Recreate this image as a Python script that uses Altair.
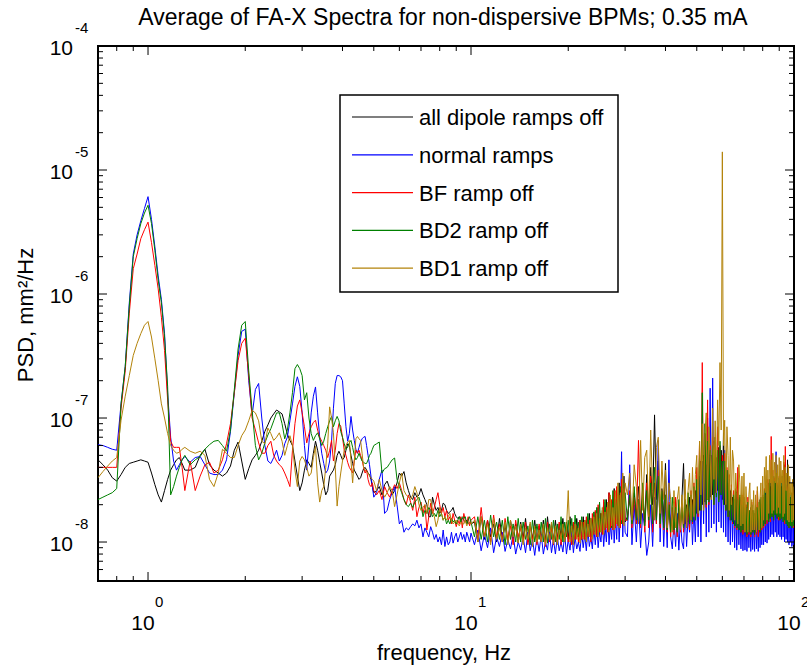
import altair as alt
import pandas as pd

TITLE = "Average of FA-X Spectra for non-dispersive BPMs; 0.35 mA"
X_TITLE = "frequency, Hz"
Y_TITLE = "PSD, mm²/Hz"
SERIES = ["all dipole ramps off", "normal ramps", "BF ramp off", "BD2 ramp off", "BD1 ramp off"]
COLORS = ["#000000", "#0000FF", "#FF0000", "#008000", "#B3830A"]

# frequency bins, Hz
FREQ_A = [0.7, 0.725, 0.75, 0.775, 0.8, 0.825, 0.85, 0.875, 0.9, 0.925, 0.95, 0.975, 1.0,
          1.025, 1.05, 1.075, 1.1, 1.125, 1.15, 1.175, 1.2, 1.225, 1.25, 1.275, 1.3]
FREQ_B = [1.35, 1.4, 1.45, 1.5, 1.55, 1.6, 1.65, 1.7, 1.75, 1.8,
          1.85, 1.9, 1.95, 2.0, 2.05, 2.1, 2.15, 2.2, 2.25, 2.3,
          2.35, 2.4, 2.45, 2.5, 2.55, 2.6, 2.65, 2.7, 2.75, 2.8,
          2.85, 2.9, 2.95, 3.0, 3.05, 3.1, 3.15, 3.2, 3.25, 3.3,
          3.35, 3.4, 3.45, 3.5, 3.55, 3.6, 3.65, 3.7, 3.75, 3.8,
          3.85, 3.9, 3.95, 4.0, 4.05, 4.1, 4.15, 4.2, 4.25, 4.3,
          4.35, 4.4, 4.45, 4.5, 4.55, 4.6, 4.65, 4.7, 4.75, 4.8,
          4.85, 4.9, 4.95, 5.0]
FREQ_C = [5.1, 5.2, 5.3, 5.4, 5.5, 5.6, 5.7, 5.8, 5.9, 6.0,
          6.1, 6.2, 6.3, 6.4, 6.5, 6.6, 6.7, 6.8, 6.9, 7.0,
          7.1, 7.2, 7.3, 7.4, 7.5, 7.6, 7.7, 7.8, 7.9, 8.0,
          8.1, 8.2, 8.3, 8.4, 8.5, 8.6, 8.7, 8.8, 8.9, 9.0,
          9.1, 9.2, 9.3, 9.4, 9.5, 9.6, 9.7, 9.8, 9.9, 10.0]
FREQ_D = [10.25, 10.5, 10.75, 11, 11.25, 11.5, 11.75, 12, 12.25, 12.5, 12.75, 13,
          13.25, 13.5, 13.75, 14, 14.25, 14.5, 14.75, 15, 15.25, 15.5, 15.75, 16,
          16.25, 16.5, 16.75, 17, 17.25, 17.5, 17.75, 18, 18.25, 18.5, 18.75, 19,
          19.25, 19.5, 19.75, 20, 20.25, 20.5, 20.75, 21, 21.25, 21.5, 21.75, 22,
          22.25, 22.5, 22.75, 23, 23.25, 23.5, 23.75, 24, 24.25, 24.5, 24.75, 25,
          25.25, 25.5, 25.75, 26, 26.25, 26.5, 26.75, 27, 27.25, 27.5, 27.75, 28,
          28.25, 28.5, 28.75, 29, 29.25, 29.5, 29.75, 30]
FREQ_E = [30.5, 31, 31.5, 32, 32.5, 33, 33.5, 34, 34.5, 35,
          35.5, 36, 36.5, 37, 37.5, 38, 38.5, 39, 39.5, 40,
          40.5, 41, 41.5, 42, 42.5, 43, 43.5, 44, 44.5, 45,
          45.5, 46, 46.5, 47, 47.5, 48, 48.5, 49, 49.5, 50,
          50.5, 51, 51.5, 52, 52.5, 53, 53.5, 54, 54.5, 55,
          55.5, 56, 56.5, 57, 57.5, 58, 58.5, 59, 59.5, 60,
          60.5, 61, 61.5, 62, 62.5, 63, 63.5, 64, 64.5, 65,
          65.5, 66, 66.5, 67, 67.5, 68, 68.5, 69, 69.5, 70,
          70.5, 71, 71.5, 72, 72.5, 73, 73.5, 74, 74.5, 75,
          75.5, 76, 76.5, 77, 77.5, 78, 78.5, 79, 79.5, 80,
          80.5, 81, 81.5, 82, 82.5, 83, 83.5, 84, 84.5, 85,
          85.5, 86, 86.5, 87, 87.5, 88, 88.5, 89, 89.5, 90,
          90.5, 91, 91.5, 92, 92.5, 93, 93.5, 94, 94.5, 95,
          95.5, 96, 96.5, 97, 97.5, 98, 98.5, 99, 99.5, 100]
FREQ = FREQ_A + FREQ_B + FREQ_C + FREQ_D + FREQ_E

# PSD values in units of 1e-8 mm^2/Hz
PSD_UNIT = 1e-8

BLACK = [
    4.6, 4.2, 3.8, 3.3, 3.1, 3.5, 4.0, 4.3, 4.4, 4.5, 4.6, 4.5, 4.4, 3.6, 2.9, 2.4, 2.1, 2.6, 3.2, 3.8, 4.2, 4.6, 4.8, 4.3, 3.8,
    3.8, 4.0, 5.0, 5.6, 4.2, 3.8, 3.6, 3.4, 3.6, 4.1,
    5.5, 6.4, 4.5, 3.2, 3.9, 4.6, 5.0, 5.5, 6.5, 7.8,
    8.8, 10, 10.8, 11.6, 11.2, 10.8, 9, 7.4, 6.6, 6.0,
    4.5, 3.4, 2.6, 3.0, 3.8, 4.6, 4.3, 4.0, 5.2, 6.5,
    5.5, 4.4, 3.6, 2.9, 2.4, 2.6, 3.4, 3.6, 3.8, 4.2,
    5.0, 5.4, 5.0, 4.6, 4.8, 5.5, 6.2, 6.0, 5.0, 4.3,
    3.8, 3.6, 3.4, 3.2, 3.3, 3.6, 3.9, 4.0, 3.8, 3.6,
    3.5, 3.2, 2.8, 2.5,
    2.6, 2.8, 2.4, 2.9, 3.1, 2.7, 2.4, 2.6, 3.0, 3.6,
    3.4, 3.7, 3.0, 2.6, 2.3, 2.2, 2.5, 2.3, 2.4, 2.7,
    2.4, 2.2, 2.0, 1.6, 1.6, 2.3, 2.0, 1.8, 1.9, 1.7,
    1.8, 2.06, 2.0, 1.8, 1.7, 1.75, 1.8, 1.9, 1.7, 1.6,
    1.55, 1.6, 1.5, 1.55, 1.5, 1.45, 1.5, 1.4, 1.45, 1.4,
    1.45, 1.0, 1.6, 1.05, 1.5, 1.1, 1.4, 1.0,
    1.55, 1.05, 1.35, 1.0, 1.5, 1.1, 1.4, 0.98,
    1.45, 1.05, 1.55, 1.0, 1.4, 1.05, 1.5, 1.0,
    1.35, 1.05, 1.5, 1.0, 1.6, 1.1, 1.4, 1.02,
    1.5, 1.05, 1.4, 1.1, 1.55, 1.0, 1.45, 1.05,
    1.6, 1.1, 1.45, 1.05, 1.55, 1.1, 1.5, 1.05,
    1.6, 1.1, 1.5, 1.15, 1.7, 1.1, 1.55, 1.2,
    1.75, 1.2, 1.9, 1.25, 1.7, 1.3, 2.1, 1.25,
    2.2, 1.3, 2.5, 1.35, 2.0, 1.4, 2.7, 1.35,
    2.5, 1.4, 3.0, 1.45, 2.6, 1.5, 3.4, 1.45,
    1.6, 2.2, 1.5, 2.5, 1.55, 2.8, 1.5, 2.3, 1.45, 3.5,
    1.6, 4.0, 2.0, 10.6, 2.2, 4.5, 1.8, 2.7, 1.6, 4.3,
    1.4, 2.0, 1.35, 1.8, 1.3, 2.2, 1.3, 1.9, 1.35, 2.3,
    4.3, 1.4, 2.0, 1.45, 2.3, 1.5, 2.2, 1.6, 2.6, 1.7,
    3.0, 1.8, 4.5, 2.0, 5.0, 2.1, 4.2, 2.2, 5.5, 2.3,
    5.0, 2.4, 6.5, 2.5, 4.8, 2.6, 5.8, 2.4, 5.5, 2.2,
    7.6, 2.0, 3.8, 1.8, 3.0, 1.6, 2.6, 1.5, 2.3, 1.4,
    2.2, 1.35, 2.6, 1.3, 2.0, 1.25, 2.2, 1.2, 1.9, 1.2,
    1.8, 1.2, 2.0, 1.15, 1.7, 1.2, 1.9, 1.15, 1.8, 1.2,
    1.7, 1.2, 1.9, 1.25, 1.8, 1.3, 2.2, 1.3, 2.0, 1.35,
    2.3, 1.4, 2.6, 1.45, 2.3, 1.5, 3.0, 1.55, 2.8, 1.6,
    3.2, 1.6, 2.9, 1.65, 3.4, 1.6, 3.0, 1.55, 2.8, 1.6,
    3.0, 1.55, 2.8, 1.6, 3.4, 1.5, 4.2, 1.5, 2.9, 1.45,
    4.6, 1.4, 2.5, 1.4, 2.3, 1.35, 2.2, 1.4, 2.0, 1.35,
]

BLUE = [
    6.1, 6.0, 5.8, 5.6, 5.5, 13, 26, 85, 210, 300, 390, 490, 610, 400, 240, 140, 90, 48, 16, 7, 4.5, 3.8, 4.2, 4.6, 4.9,
    4.4, 4.8, 4.9, 4.2, 3.6, 3.5, 3.5, 3.8, 4.6, 7.8,
    16, 32, 50, 52, 20, 10.5, 17, 19, 10, 6,
    4.5, 4.3, 4.8, 5.5, 4.5, 5.0, 6.2, 7.0, 9.5, 13,
    18, 21.5, 18, 11, 6, 3.8, 6.3, 11, 15, 17.8,
    11, 7, 5.2, 4.3, 3.6, 3.8, 4.5, 6.5, 12, 19,
    22, 22, 21.5, 20, 13, 8.5, 6.5, 7.5, 10.3, 8,
    6.6, 5.6, 5.2, 5.8, 6.4, 6.8, 7.0, 7.1, 6.0, 5.0,
    4.2, 3.4, 2.8, 2.3,
    2.5, 3.2, 3.8, 1.7, 1.8, 2.2, 2.5, 2.8, 2.0, 1.4,
    1.5, 1.2, 1.3, 1.25, 1.33, 1.4, 1.35, 1.5, 1.3, 1.4,
    1.1, 1.3, 1.2, 1.1, 1.33, 1.2, 1.05, 1.15, 1.0, 1.1,
    0.95, 1.25, 0.92, 1.1, 0.95, 1.0, 1.2, 0.98, 1.1, 1.18,
    1.0, 1.1, 1.2, 1.05, 1.15, 1.0, 1.2, 1.1, 1.0, 1.18,
    0.95, 1.25, 0.85, 1.15, 0.9, 1.3, 0.82, 1.1,
    0.92, 1.2, 0.84, 1.05, 0.88, 1.15, 0.8, 1.0,
    0.86, 1.1, 0.82, 1.2, 0.85, 1.05, 0.78, 1.1,
    0.84, 1.15, 0.8, 1.0, 0.86, 1.2, 0.82, 1.05,
    0.8, 1.1, 0.85, 1.0, 0.83, 1.15, 0.8, 1.05,
    0.86, 1.2, 0.82, 1.1, 0.88, 1.0, 0.84, 1.2,
    0.9, 1.15, 0.85, 1.25, 0.92, 1.1, 0.88, 1.3,
    0.95, 1.4, 0.9, 1.2, 1.0, 1.5, 0.92, 1.35,
    1.0, 1.7, 0.95, 1.4, 1.05, 1.9, 0.98, 1.6,
    1.05, 2.2, 1.0, 1.7, 5.35, 1.1, 2.4, 1.2,
    1.1, 4.2, 0.95, 2.0, 1.0, 2.2, 0.9, 1.7, 1.3, 0.78,
    1.0, 2.0, 0.92, 2.3, 1.4, 6.6, 1.0, 2.6, 0.92, 2.1,
    0.9, 4.6, 1.1, 0.88, 1.5, 0.92, 1.7, 0.86, 1.5, 1.0,
    0.88, 1.9, 0.92, 1.6, 1.2, 2.2, 0.95, 1.9, 1.0, 2.6,
    1.1, 3.4, 1.0, 4.5, 1.4, 6.0, 1.1, 10, 1.2, 17.4,
    1.3, 21, 1.4, 7.0, 1.2, 5.0, 1.45, 5.5, 1.3, 4.5,
    1.2, 5.5, 1.1, 3.8, 1.0, 3.0, 0.95, 2.5, 1.0, 2.2,
    0.9, 2.0, 0.86, 2.3, 0.95, 1.9, 0.88, 1.7, 0.85, 1.9,
    0.86, 1.6, 0.84, 1.7, 0.9, 1.5, 0.84, 1.6, 0.87, 1.5,
    0.84, 1.7, 0.88, 1.5, 0.84, 1.8, 0.9, 1.6, 0.95, 2.0,
    0.95, 2.2, 1.0, 2.5, 0.98, 2.1, 1.05, 2.8, 1.1, 2.6,
    1.15, 3.0, 1.1, 2.7, 1.2, 5.35, 1.1, 2.9, 1.15, 2.7,
    1.1, 2.6, 1.05, 3.4, 1.1, 2.3, 1.0, 2.8, 1.05, 2.2,
    1.0, 2.3, 0.95, 2.0, 1.0, 1.9, 0.92, 2.2, 0.95, 1.8,
]

RED = [
    4.0, 4.0, 4.0, 4.0, 4.0, 12, 24, 70, 160, 210, 280, 330, 380, 260, 170, 110, 65, 35, 14, 6.5, 5.8, 5.8, 5.8, 4.0, 2.6,
    4.5, 2.6, 3.4, 4.2, 4.4, 3.6, 3.8, 4.6, 6.2, 9,
    16, 29, 40, 44, 22, 10, 8, 6.3, 5.2, 5.2,
    6.0, 6.5, 5.0, 4.5, 4.2, 4.0, 3.6, 3.2, 2.8, 5.5,
    9, 12.5, 14, 11, 8.5, 6.3, 7.5, 8.5, 9.2, 9.6,
    8.0, 7.0, 6.5, 6.0, 5.5, 4.8, 5.5, 6.6, 4.5, 5.5,
    7.5, 9.0, 8.6, 7.0, 5.5, 5.0, 4.4, 4.0, 3.8, 3.6,
    4.5, 5.5, 5.2, 5.5, 5.0, 4.6, 4.0, 3.6, 3.8, 3.2,
    2.9, 2.8, 3.0, 2.6,
    2.4, 2.6, 2.2, 2.8, 2.5, 2.3, 2.6, 2.9, 2.7, 3.0,
    2.6, 2.2, 2.0, 2.4, 2.1, 1.8, 2.3, 1.6, 1.9, 2.1,
    1.7, 2.0, 1.25, 1.6, 2.06, 1.7, 1.9, 2.2, 2.5, 2.0,
    1.7, 1.9, 1.6, 1.8, 1.5, 1.6, 1.4, 1.7, 1.5, 1.33,
    1.5, 1.4, 1.6, 1.3, 1.7, 1.5, 1.4, 1.6, 1.35, 1.5,
    1.6, 1.05, 1.9, 1.1, 1.5, 1.0, 1.65, 1.1,
    1.4, 1.0, 1.55, 1.05, 1.35, 0.95, 1.5, 1.1,
    1.3, 1.0, 1.45, 0.95, 1.35, 1.05, 1.25, 0.95,
    1.4, 1.0, 1.3, 0.92, 1.45, 1.0, 1.3, 0.95,
    1.35, 1.0, 1.45, 0.95, 1.3, 1.05, 1.4, 1.0,
    1.3, 0.95, 1.45, 1.05, 1.35, 1.0, 1.5, 1.05,
    1.45, 1.05, 1.6, 1.1, 1.5, 1.0, 1.7, 1.15,
    1.8, 1.1, 2.0, 1.2, 1.7, 1.15, 2.2, 1.25,
    1.9, 1.2, 2.5, 1.3, 2.2, 1.25, 2.6, 1.3,
    2.8, 1.35, 2.4, 1.3, 3.2, 1.4, 2.7, 1.5,
    1.5, 2.6, 1.3, 2.3, 1.4, 6.6, 1.3, 2.8, 1.2, 3.0,
    1.3, 3.4, 1.2, 3.0, 1.4, 3.8, 1.3, 2.6, 1.25, 2.4,
    1.2, 2.1, 1.1, 1.9, 1.15, 2.3, 1.1, 1.8, 1.2, 2.0,
    1.2, 2.2, 1.3, 2.0, 1.25, 2.6, 1.4, 3.0, 1.5, 4.0,
    1.6, 6.5, 1.8, 28, 2.0, 7.5, 1.9, 14, 2.0, 6.0,
    2.2, 7.0, 2.0, 5.8, 2.4, 8.5, 2.2, 6.0, 2.5, 5.0,
    2.0, 5.2, 1.8, 4.0, 1.6, 3.5, 1.5, 2.9, 1.4, 2.6,
    1.3, 2.7, 1.25, 4.0, 1.3, 2.3, 1.2, 2.4, 1.15, 2.1,
    1.2, 2.0, 1.1, 2.3, 1.15, 1.8, 1.1, 2.1, 1.2, 1.7,
    1.1, 1.9, 1.15, 2.6, 1.1, 1.7, 1.2, 2.0, 1.25, 2.4,
    1.3, 2.7, 1.35, 2.4, 1.4, 3.2, 1.5, 2.9, 1.45, 7.1,
    1.6, 3.8, 1.5, 3.3, 1.7, 3.6, 1.6, 3.0, 1.5, 3.4,
    1.5, 3.1, 1.6, 2.8, 1.5, 4.4, 1.4, 5.9, 1.5, 2.7,
    1.4, 2.8, 1.3, 2.4, 1.4, 2.2, 1.35, 2.5, 1.3, 2.1,
]

GREEN = [
    2.2, 2.3, 2.4, 2.5, 2.7, 13, 26, 80, 200, 280, 370, 450, 520, 370, 225, 130, 85, 45, 18, 2.4, 2.8, 3.4, 4.0, 4.6, 5.0,
    4.2, 4.6, 4.9, 5.6, 6.1, 6.5, 6.6, 6.0, 5.4, 8,
    17, 36, 56, 60, 24, 11.5, 6.0, 4.6, 5.2, 6.3,
    7.3, 8.2, 9.5, 11, 11, 9.0, 6.8, 8.0, 11, 16,
    25, 27, 25, 22, 14, 16, 10, 7.5, 6.6, 7.2,
    7.6, 6.8, 6.0, 6.5, 7.5, 8.5, 9.5, 10.3, 8.5, 9.5,
    10.3, 9.5, 7.8, 7.0, 6.2, 5.6, 5.8, 6.3, 6.6, 5.8,
    5.0, 4.6, 4.8, 5.2, 4.8, 4.5, 4.4, 4.3, 4.3, 4.6,
    5.0, 5.2, 5.6, 6.0,
    6.2, 6.4, 3.6, 3.9, 4.0, 4.3, 4.6, 4.76, 3.2, 2.8,
    2.5, 2.2, 2.0, 1.93, 2.06, 1.9, 2.1, 2.2, 2.3, 2.0,
    1.6, 1.8, 1.7, 1.9, 1.8, 1.6, 1.7, 1.6, 1.8, 1.6,
    1.7, 1.5, 1.6, 1.4, 1.5, 1.4, 1.55, 1.45, 1.5, 1.4,
    1.5, 1.6, 1.45, 1.6, 1.55, 1.6, 1.4, 1.5, 1.6, 1.45,
    1.1, 1.6, 1.05, 1.5, 1.0, 1.65, 1.1, 1.45,
    1.05, 1.5, 0.95, 1.6, 1.05, 1.4, 1.0, 1.55,
    1.0, 1.45, 1.05, 1.35, 0.95, 1.5, 1.0, 1.4,
    1.05, 1.45, 1.0, 1.55, 0.98, 1.4, 1.05, 1.5,
    1.0, 1.4, 1.05, 1.6, 1.0, 1.45, 1.1, 1.5,
    1.05, 1.55, 1.0, 1.65, 1.1, 1.45, 1.05, 1.6,
    1.1, 1.5, 1.05, 1.7, 1.15, 1.55, 1.1, 1.75,
    1.2, 1.9, 1.15, 2.1, 1.2, 1.8, 1.25, 2.2,
    1.3, 2.0, 1.25, 2.3, 1.3, 2.6, 1.35, 2.2,
    1.4, 2.4, 1.35, 2.8, 1.4, 3.0, 1.45, 2.5,
    1.5, 2.4, 1.4, 2.8, 1.5, 2.2, 1.4, 3.0, 1.35, 2.6,
    1.5, 3.0, 1.4, 4.0, 1.5, 3.4, 1.4, 2.6, 1.3, 2.4,
    1.25, 2.0, 1.2, 2.3, 1.25, 1.9, 1.2, 2.2, 1.3, 1.9,
    1.3, 2.2, 1.35, 2.5, 1.4, 2.4, 1.45, 2.8, 1.5, 3.2,
    1.7, 5.0, 1.8, 16, 1.9, 9.0, 2.0, 6.5, 2.1, 5.5,
    2.2, 6.0, 2.0, 7.0, 2.3, 5.5, 2.1, 6.5, 2.4, 4.5,
    2.0, 4.5, 1.8, 3.8, 1.6, 3.2, 1.5, 2.7, 1.45, 2.4,
    1.35, 2.6, 1.3, 2.2, 1.25, 2.4, 1.2, 2.0, 1.25, 2.3,
    1.2, 1.9, 1.15, 2.1, 1.2, 1.8, 1.15, 2.0, 1.2, 1.8,
    1.15, 2.0, 1.2, 1.9, 1.25, 2.1, 1.2, 2.3, 1.3, 2.4,
    1.35, 2.6, 1.4, 2.9, 1.5, 2.5, 1.45, 3.2, 1.55, 3.0,
    1.6, 3.4, 1.5, 3.1, 1.65, 3.6, 1.55, 2.9, 1.6, 3.3,
    1.5, 3.0, 1.55, 3.4, 1.45, 2.9, 1.5, 3.5, 1.4, 2.6,
    1.35, 2.7, 1.3, 2.3, 1.35, 2.5, 1.3, 2.2, 1.35, 2.4,
]

GOLD = [
    3.3, 3.7, 4.1, 4.5, 4.8, 9.6, 15, 22, 32, 40, 48, 56, 60, 45, 30, 20, 13, 10, 7.5, 6, 5.5, 5.2, 5.3, 5.6, 5.8,
    5.4, 5.2, 5.4, 5.0, 3.2, 2.8, 3.6, 5.6, 5.2, 4.8,
    4.8, 6.0, 7.2, 8.0, 9.5, 11.5, 11, 9.5, 6.5, 6.2,
    8.3, 7.5, 6.6, 7.0, 7.6, 6.5, 5.0, 6.0, 7.2, 6.0,
    3.8, 2.8, 4.5, 4.9, 4.6, 4.0, 3.4, 3.6, 4.8, 5.9,
    3.0, 2.1, 2.6, 2.8, 4.0, 6.2, 12.3, 10, 7.6, 4.0,
    1.95, 2.8, 3.6, 4.5, 5.5, 6.0, 6.4, 6.6, 4.5, 3.0,
    4.5, 6.8, 7.1, 6.8, 6.6, 5.2, 4.0, 3.8, 3.7, 3.6,
    3.4, 3.3, 3.2, 3.1,
    2.6, 3.2, 2.6, 2.3, 2.5, 2.8, 2.6, 1.93, 2.4, 3.0,
    3.6, 2.6, 2.4, 2.3, 2.2, 2.4, 2.8, 2.5, 2.0, 1.8,
    1.9, 2.0, 1.7, 2.2, 2.2, 1.8, 1.6, 1.33, 1.5, 1.9,
    1.7, 1.5, 1.6, 1.5, 1.6, 1.7, 1.5, 1.4, 1.45, 1.5,
    1.4, 1.35, 1.45, 1.4, 1.4, 1.5, 1.35, 1.4, 1.45, 1.4,
    1.5, 1.0, 1.6, 1.1, 1.4, 0.95, 1.55, 1.05,
    1.3, 1.0, 1.45, 0.95, 1.5, 1.1, 1.35, 0.98,
    1.4, 0.95, 1.3, 1.05, 1.45, 0.92, 1.35, 1.0,
    1.25, 1.0, 1.4, 0.95, 1.3, 1.05, 1.45, 0.97,
    1.35, 0.95, 1.25, 1.05, 1.4, 1.0, 1.3, 2.6,
    1.0, 1.35, 0.95, 1.4, 1.05, 1.3, 0.98, 1.45,
    1.05, 1.5, 1.0, 1.4, 1.1, 1.55, 1.05, 1.6,
    1.15, 1.7, 1.1, 1.55, 1.2, 1.9, 1.15, 1.75,
    1.3, 2.1, 1.2, 2.4, 1.35, 1.9, 1.25, 2.6,
    1.4, 3.0, 1.3, 2.5, 1.5, 3.6, 1.35, 3.0,
    2.4, 3.6, 1.5, 4.2, 2.8, 1.4, 6.6, 1.8, 4.8, 5.5,
    1.6, 8.0, 2.6, 1.5, 5.8, 7.0, 1.7, 4.5, 2.2, 3.8,
    1.3, 3.0, 2.2, 1.2, 2.6, 1.3, 2.2, 2.8, 1.25, 2.4,
    1.4, 3.2, 1.3, 2.6, 3.6, 1.5, 4.0, 1.6, 3.5, 5.0,
    1.7, 6.5, 2.4, 9.0, 1.8, 7.5, 11, 2.2, 8.5, 5.0,
    2.2, 12, 3.2, 9.5, 2.5, 14, 6.0, 28, 8.0, 1400,
    6.0, 9.6, 2.0, 8.5, 5.0, 1.8, 7.0, 2.0, 5.5, 4.5,
    1.5, 3.6, 2.5, 1.4, 4.2, 3.0, 1.35, 3.4, 1.4, 3.6,
    1.2, 2.8, 1.9, 1.2, 2.4, 3.0, 1.2, 2.2, 1.25, 2.6,
    1.25, 2.4, 1.2, 2.8, 2.0, 1.25, 2.2, 3.0, 1.3, 3.4,
    1.5, 4.0, 2.5, 4.9, 1.5, 3.8, 1.7, 5.0, 3.0, 4.6,
    1.7, 5.2, 1.8, 4.4, 3.0, 5.0, 1.7, 4.2, 1.9, 4.8,
    1.7, 4.5, 3.0, 3.8, 1.6, 5.0, 1.7, 4.0, 2.6, 3.6,
    1.5, 4.2, 1.45, 3.4, 2.4, 3.0, 1.45, 3.2, 1.5, 2.8,
]

VALUES = [BLACK, BLUE, RED, GREEN, GOLD]

X_DOMAIN = [0.7, 100]
Y_DOMAIN = [4.85e-9, 1e-4]
X_MAJOR = [1, 10, 100]
X_MAJOR_EXP = ["0", "1", "2"]
X_MINOR = [0.7, 0.8, 0.9, 2, 3, 4, 5, 6, 7, 8, 9, 20, 30, 40, 50, 60, 70, 80, 90]
Y_MAJOR = [1e-8, 1e-7, 1e-6, 1e-5, 1e-4]
Y_MAJOR_EXP = ["-8", "-7", "-6", "-5", "-4"]
Y_MINOR = [6e-9, 7e-9, 8e-9, 9e-9,
           2e-8, 3e-8, 4e-8, 5e-8, 6e-8, 7e-8, 8e-8, 9e-8,
           2e-7, 3e-7, 4e-7, 5e-7, 6e-7, 7e-7, 8e-7, 9e-7,
           2e-6, 3e-6, 4e-6, 5e-6, 6e-6, 7e-6, 8e-6, 9e-6,
           2e-5, 3e-5, 4e-5, 5e-5, 6e-5, 7e-5, 8e-5, 9e-5]

W, H = 696, 535
FONT = "Liberation Sans"

xs = alt.Scale(type="log", domain=X_DOMAIN, nice=False)
ys = alt.Scale(type="log", domain=Y_DOMAIN, nice=False)

layers = []

for name, color, vals in zip(SERIES, COLORS, VALUES):
    if len(vals) != len(FREQ):
        raise ValueError(f"{name}: {len(vals)} values vs {len(FREQ)} freqs")
    df = pd.DataFrame({"freq": FREQ, "psd": [v * PSD_UNIT for v in vals]})
    layers.append(
        alt.Chart(df).mark_line(color=color, strokeWidth=1, clip=True).encode(
            x=alt.X("freq:Q", scale=xs, axis=None),
            y=alt.Y("psd:Q", scale=ys, axis=None),
        )
    )


def x_ticks(vals, length):
    df = pd.DataFrame({"f": vals})
    bottom = alt.Chart(df).mark_rule(color="black", strokeWidth=1).encode(
        x=alt.X("f:Q", scale=xs, axis=None), y=alt.value(H), y2=alt.value(H - length))
    top = alt.Chart(df).mark_rule(color="black", strokeWidth=1).encode(
        x=alt.X("f:Q", scale=xs, axis=None), y=alt.value(0), y2=alt.value(length))
    return [bottom, top]


def y_ticks(vals, length):
    df = pd.DataFrame({"v": vals})
    left = alt.Chart(df).mark_rule(color="black", strokeWidth=1).encode(
        y=alt.Y("v:Q", scale=ys, axis=None), x=alt.value(0), x2=alt.value(length))
    right = alt.Chart(df).mark_rule(color="black", strokeWidth=1).encode(
        y=alt.Y("v:Q", scale=ys, axis=None), x=alt.value(W), x2=alt.value(W - length))
    return [left, right]


layers += x_ticks(X_MAJOR, 9) + x_ticks(X_MINOR, 5)
layers += y_ticks(Y_MAJOR, 9) + y_ticks(Y_MINOR, 5)

# tick labels as 10 with superscript exponent
xlab = alt.Chart(pd.DataFrame({"f": X_MAJOR, "e": X_MAJOR_EXP}))
layers.append(xlab.mark_text(text="10", font=FONT, fontSize=21, align="center",
                             baseline="alphabetic", dx=-5, color="black").encode(
    x=alt.X("f:Q", scale=xs, axis=None), y=alt.value(H + 49)))
layers.append(xlab.mark_text(font=FONT, fontSize=15, align="left",
                             baseline="alphabetic", dx=7, color="black").encode(
    x=alt.X("f:Q", scale=xs, axis=None), y=alt.value(H + 26), text="e:N"))

ylab = alt.Chart(pd.DataFrame({"v": Y_MAJOR, "e": Y_MAJOR_EXP}))
layers.append(ylab.mark_text(text="10", font=FONT, fontSize=21, align="right",
                             baseline="alphabetic", dy=9, color="black").encode(
    y=alt.Y("v:Q", scale=ys, axis=None), x=alt.value(-25)))
layers.append(ylab.mark_text(font=FONT, fontSize=15, align="left",
                             baseline="alphabetic", dy=-13, color="black").encode(
    y=alt.Y("v:Q", scale=ys, axis=None), x=alt.value(-23), text="e:N"))

# titles
layers.append(alt.Chart(pd.DataFrame({"t": [TITLE]})).mark_text(
    font=FONT, fontSize=23, align="center", baseline="alphabetic", color="black").encode(
    x=alt.value(345), y=alt.value(-21), text="t:N"))
layers.append(alt.Chart(pd.DataFrame({"t": [X_TITLE]})).mark_text(
    font=FONT, fontSize=22, align="center", baseline="alphabetic", color="black").encode(
    x=alt.value(346), y=alt.value(H + 79), text="t:N"))
layers.append(alt.Chart(pd.DataFrame({"t": [Y_TITLE]})).mark_text(
    font=FONT, fontSize=22, align="center", baseline="alphabetic", angle=270, color="black").encode(
    x=alt.value(-65), y=alt.value(269), text="t:N"))

# legend box
layers.append(alt.Chart(pd.DataFrame({"k": [0]})).mark_rect(
    fill="white", stroke="black", strokeWidth=1.5).encode(
    x=alt.value(242), x2=alt.value(520), y=alt.value(49), y2=alt.value(246)))
for i, (name, color) in enumerate(zip(SERIES, COLORS)):
    ypos = 71 + 37.8 * i
    row = alt.Chart(pd.DataFrame({"label": [name]}))
    layers.append(row.mark_rule(color=color, strokeWidth=1.2).encode(
        x=alt.value(254), x2=alt.value(315), y=alt.value(ypos)))
    layers.append(row.mark_text(font=FONT, fontSize=22, align="left", baseline="middle",
                                color="black", dy=1).encode(
        x=alt.value(321), y=alt.value(ypos), text="label:N"))

chart = alt.layer(*layers).properties(
    width=W, height=H,
    padding={"left": 98, "top": 46, "right": 13, "bottom": 88},
    autosize=alt.AutoSizeParams(type="none"),
    background="white",
).configure_view(stroke="black", strokeWidth=2)

chart.save("out.html", embed_options={"renderer": "svg", "actions": False})
